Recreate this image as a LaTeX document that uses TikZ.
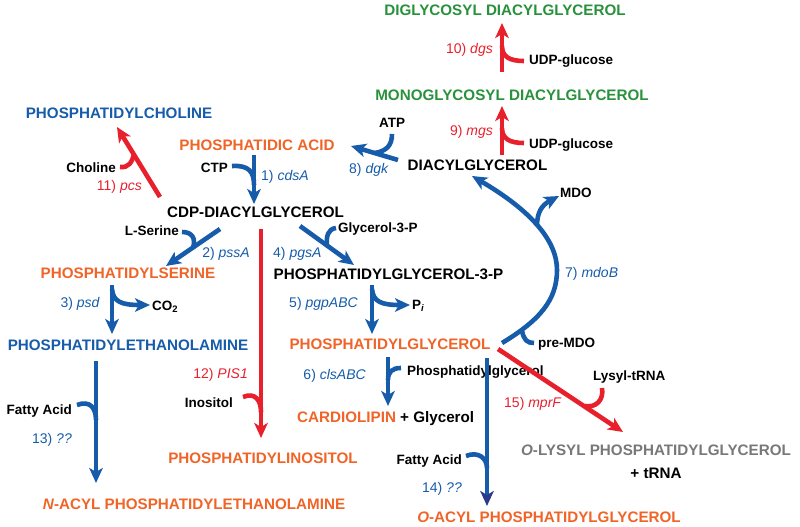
\documentclass[tikz,border=0pt]{standalone}
\usepackage{fontspec}
\setmainfont{Liberation Sans}
\usetikzlibrary{arrows.meta}
\definecolor{pblue}{RGB}{22,92,170}
\definecolor{porange}{RGB}{240,100,40}
\definecolor{pred}{RGB}{232,32,44}
\definecolor{pgreen}{RGB}{40,145,60}
\definecolor{pgray}{RGB}{120,120,120}
\definecolor{pnavy}{RGB}{44,58,140}
\begin{document}
\begin{tikzpicture}[x=1pt,y=-1pt,
 main/.style={font=\fontsize{15.2}{16}\selectfont\bfseries, inner sep=0pt, anchor=base},
 sm/.style={font=\fontsize{13.5}{14}\selectfont\bfseries, inner sep=0pt},
 enz/.style={font=\fontsize{14}{15}\selectfont, inner sep=0pt},
 arr/.style={line width=4.6pt, -{Stealth[length=15pt,width=13.5pt,inset=4pt]}},
 hook/.style={line width=4.6pt},
]
\useasboundingbox (0,0) rectangle (800,527);

% ---------- main compounds ----------
\node[main,text=pgreen] (dgd) at (505,16) {DIGLYCOSYL DIACYLGLYCEROL};
\node[main,text=pgreen] (mgd) at (512,100) {MONOGLYCOSYL DIACYLGLYCEROL};
\node[main] (dag) at (477.5,170) {DIACYLGLYCEROL};
\node[main,text=pblue] (pc) at (119,118) {PHOSPHATIDYLCHOLINE};
\node[main,text=porange] (pa) at (257,150) {PHOSPHATIDIC ACID};
\node[main] (cdp) at (255.5,217) {CDP-DIACYLGLYCEROL};
\node[main,text=porange] (ps) at (128,278) {PHOSPHATIDYLSERINE};
\node[main] (pgp) at (388.5,279) {PHOSPHATIDYLGLYCEROL-3-P};
\node[main,text=pblue] (pe) at (128,350) {PHOSPHATIDYLETHANOLAMINE};
\node[main,text=porange] (pg) at (390,349) {PHOSPHATIDYLGLYCEROL};
\node[main,anchor=base west,text=porange] (cl) at (297,422) {CARDIOLIPIN \textcolor{black}{+ Glycerol}};
\node[main,text=porange] (pi) at (263,463) {PHOSPHATIDYLINOSITOL};
\node[main,text=porange] (nape) at (194,509) {\textit{N}-ACYL PHOSPHATIDYLETHANOLAMINE};
\node[main,text=porange] (oapg) at (549,522) {\textit{O}-ACYL PHOSPHATIDYLGLYCEROL};
\node[main,text=pgray] (olpg) at (656,455) {\textit{O}-LYSYL PHOSPHATIDYLGLYCEROL};
\node[main] (trna) at (656,478) {+ tRNA};

% ---------- co-substrates ----------
\node[sm,anchor=base west] (udp1) at (529,65) {UDP-glucose};
\node[sm,anchor=base west] (udp2) at (529,148) {UDP-glucose};
\node[sm,anchor=base] (atp) at (392,127) {ATP};
\node[sm,anchor=base east] (chol) at (116,172) {Choline};
\node[sm,anchor=base east] (ctp) at (228,172) {CTP};
\node[sm,anchor=base east] (ser) at (179,235) {L-Serine};
\node[sm,anchor=base west] (g3p) at (338,232) {Glycerol-3-P};
\node[sm,anchor=base west] (co2) at (152,310) {CO\textsubscript{2}};
\node[sm,anchor=base west] (pii) at (412,309) {P\textsubscript{\textit{i}}};
\node[sm,anchor=base west] (pgl) at (407,375) {Phosphatidylglycerol};
\node[sm,anchor=base east] (fa1) at (72,414) {Fatty Acid};
\node[sm,anchor=base east] (fa2) at (462,464) {Fatty Acid};
\node[sm,anchor=base east] (ino) at (233,407) {Inositol};
\node[sm,anchor=base west] (lys) at (593,380) {Lysyl-tRNA};
\node[sm,anchor=base west] (mdo) at (560,197) {MDO};
\node[sm,anchor=base west] (pmdo) at (538,347) {pre-MDO};

% ---------- enzymes ----------
\node[enz,anchor=base east,text=pred] (e10) at (493,53) {10) \textit{dgs}};
\node[enz,anchor=base east,text=pred] (e9) at (493,135) {9) \textit{mgs}};
\node[enz,anchor=base west,text=pblue] (e8) at (349,173) {8) \textit{dgk}};
\node[enz,anchor=base east,text=pred] (e11) at (142,190) {11) \textit{pcs}};
\node[enz,anchor=base west,text=pblue] (e1) at (261,180) {1) \textit{cdsA}};
\node[enz,anchor=base east,text=pblue] (e2) at (250,257) {2) \textit{pssA}};
\node[enz,anchor=base west,text=pblue] (e4) at (273,257) {4) \textit{pgsA}};
\node[enz,anchor=base east,text=pblue] (e3) at (100,307) {3) \textit{psd}};
\node[enz,anchor=base east,text=pblue] (e5) at (358,307) {5) \textit{pgpABC}};
\node[enz,anchor=base east,text=pblue] (e6) at (366,379) {6) \textit{clsABC}};
\node[enz,anchor=base east,text=pred] (e12) at (248,378) {12) \textit{PIS1}};
\node[enz,anchor=base east,text=pblue] (e13) at (72,443) {13) \textit{??}};
\node[enz,anchor=base east,text=pblue] (e14) at (462,492) {14) \textit{??}};
\node[enz,anchor=base west,text=pred] (e15) at (504,407) {15) \textit{mprF}};
\node[enz,anchor=base west,text=pblue] (e7) at (565,277) {7) \textit{mdoB}};

% ---------- coordinates ----------
\coordinate (a10s) at (502,72);  \coordinate (a10e) at (502,23);
\coordinate (a9s) at (502,155);  \coordinate (a9e) at (502,106);
\coordinate (a8s) at (398,160);  \coordinate (a8e) at (351,146);
\coordinate (a11s) at (160,197); \coordinate (a11e) at (117,127);
\coordinate (a1s) at (254,155);  \coordinate (a1e) at (254,204);
\coordinate (a2s) at (220,229);  \coordinate (a2e) at (166,266);
\coordinate (a4s) at (300,226);  \coordinate (a4e) at (354,265);
\coordinate (a12s) at (261,229); \coordinate (a12e) at (261,438);
\coordinate (a3s) at (112,285);  \coordinate (a3e) at (112,334);
\coordinate (a5s) at (372,285);  \coordinate (a5e) at (372,334);
\coordinate (a6s) at (388,357);  \coordinate (a6e) at (388,406);
\coordinate (a13s) at (96,361);  \coordinate (a13e) at (96,483);
\coordinate (a14s) at (487,358); \coordinate (a14e) at (487,506);
\coordinate (a15s) at (498,349); \coordinate (a15e) at (623,432);
\coordinate (a7s) at (502,343);  \coordinate (a7m) at (557,270); \coordinate (a7e) at (472,176);

% ---------- red arrows ----------
\begin{scope}[pred]
\draw[arr] (a10s) -- (a10e);
\draw[hook] (524,61) .. controls (510,61) and (502,57) .. (502,46);
\draw[arr] (a9s) -- (a9e);
\draw[hook] (524,143) .. controls (510,143) and (502,139) .. (502,128);
\draw[arr] (a11s) -- (a11e);
\draw[hook] (120,167) .. controls (129,168) and (132,162) .. (134,154);
\draw[arr] (a12s) -- (a12e);
\draw[hook] (243,397) .. controls (255,392) and (261,400) .. (261,412);
\draw[arr] (a15s) -- (a15e);
\draw[hook] (602,388) .. controls (604,400) and (596,408) .. (585,406);
\end{scope}

% ---------- blue arrows ----------
\begin{scope}[pblue]
\draw[arr] (a8s) -- (a8e);
\draw[hook] (392,134) .. controls (392,146) and (386,151) .. (375,153);
\draw[arr] (a1s) -- (a1e);
\draw[hook] (232,166) .. controls (249,165) and (254,172) .. (254,185);
\draw[arr] (a2s) -- (a2e);
\draw[hook] (182,232) .. controls (192,232) and (196,238) .. (193,248);
\draw[arr] (a4s) -- (a4e);
\draw[hook] (336,228) .. controls (328,229) and (326,236) .. (327,246);
\draw[arr] (a3s) -- (a3e);
\draw[arr] (112,289) .. controls (113,302) and (122,305) .. (150,305);
\draw[arr] (a5s) -- (a5e);
\draw[arr] (372,289) .. controls (373,302) and (382,305) .. (410,305);
\draw[arr] (a6s) -- (a6e);
\draw[hook] (401,368) .. controls (392,368) and (388,372) .. (388,380);
\draw[arr] (a13s) -- (a13e);
\draw[hook] (77,405) .. controls (90,400) and (96,408) .. (96,420);
\draw[line width=4.6pt, -{Stealth[length=15pt,width=13.5pt,inset=4pt,color=pnavy]}] (a14s) -- (a14e);
\draw[hook] (466,456) .. controls (478,451) and (487,458) .. (487,468);
\draw[arr] (a7s) .. controls (540,320) and (557,300) .. (a7m)
               .. controls (557,240) and (530,210) .. (a7e);
\draw[arr] (537,226) .. controls (537,212) and (542,205) .. (559,196);
\draw[hook] (522,331) .. controls (524,340) and (527,343) .. (534,343);
\end{scope}
\end{tikzpicture}
\end{document}
